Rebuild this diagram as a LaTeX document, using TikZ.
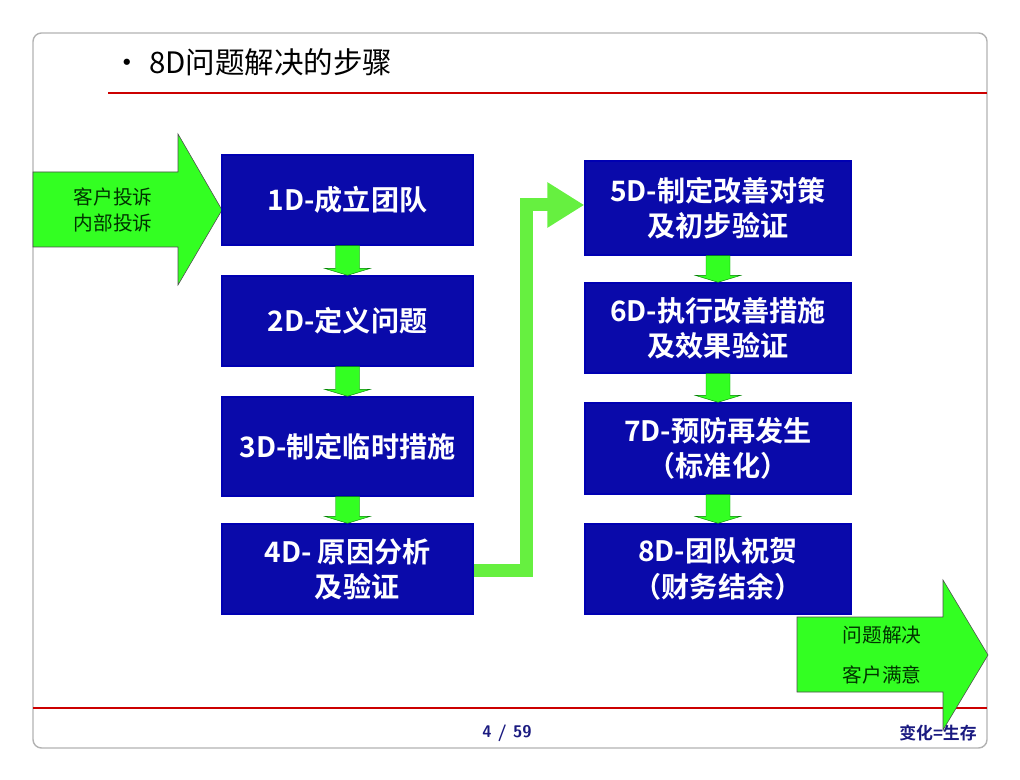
\documentclass[tikz,border=0pt]{standalone}
\usepackage{fontspec}
\newfontfamily\cjk{Noto Sans CJK SC}
\newfontfamily\cjkbold{Noto Sans CJK SC Bold}
\usetikzlibrary{arrows.meta,calc}
\definecolor{stepblue}{HTML}{0A0AAA}
\definecolor{arrowgreen}{HTML}{33FF22}
\definecolor{linkgreen}{HTML}{66F040}
\definecolor{footblue}{HTML}{1A1A80}

\begin{document}
\begin{tikzpicture}[x=0.025cm,y=-0.025cm]
    \tikzset{stepbox/.style={rectangle, draw=blue!70!black, line width=1pt, fill=stepblue,
               text=white, font=\cjkbold\fontsize{20}{25}\selectfont, align=center, inner sep=0pt},
             downarrow/.style={fill=arrowgreen, draw=green!50!black, line width=0.3pt},
             bigarrow/.style={fill=arrowgreen, draw=black!70, line width=0.4pt},
             arrowtext/.style={text=green!20!black, font=\cjk\fontsize{14}{19}\selectfont, align=center}}
    \useasboundingbox (0,0) rectangle (1020,780);

    % slide frame and rules
    \draw[gray!60, line width=1pt, rounded corners=6] (33,33) rectangle (987,748);
    \draw[red!80!black, line width=1pt] (108,93) -- (987,93);
    \draw[red!80!black, line width=1pt] (33,708) -- (987,708);
    \node[anchor=west, font=\cjk\fontsize{21}{25}\selectfont] (title) at (108,62) {•\ 8D问题解决的步骤};
    \node[text=footblue, font=\bfseries\sffamily\fontsize{12}{14}\selectfont] (page) at (507,733) {4 / 59};
    \node[text=footblue, font=\cjkbold\fontsize{12}{14}\selectfont] (motto) at (938,733) {变化=生存};

    % big arrows in and out
    \draw[bigarrow] (33,172) -- (178,172) -- (178,134) -- (222,210) -- (178,285) -- (178,247) -- (33,247) -- cycle;
    \node[arrowtext] (input) at (113,210) {客户投诉\\内部投诉};
    \draw[bigarrow] (797,617) -- (943,617) -- (943,580) -- (988,655) -- (943,730) -- (943,692) -- (797,692) -- cycle;
    \node[arrowtext, font=\cjk\fontsize{14}{28}\selectfont] (output) at (882,655) {问题解决\\客户满意};

    % steps
    \node[stepbox, minimum width=251*0.025cm, minimum height=90*0.025cm] (d1) at (347.5,200) {1D-成立团队};
    \node[stepbox, minimum width=251*0.025cm, minimum height=90*0.025cm] (d2) at (347.5,321) {2D-定义问题};
    \node[stepbox, minimum width=251*0.025cm, minimum height=99*0.025cm] (d3) at (347.5,446.5) {3D-制定临时措施};
    \node[stepbox, minimum width=251*0.025cm, minimum height=90*0.025cm] (d4) at (347.5,569) {4D- 原因分析\\\ \ \ 及验证};
    \node[stepbox, minimum width=266*0.025cm, minimum height=94*0.025cm] (d5) at (718,208) {5D-制定改善对策\\及初步验证};
    \node[stepbox, minimum width=266*0.025cm, minimum height=90*0.025cm] (d6) at (718,328) {6D-执行改善措施\\及效果验证};
    \node[stepbox, minimum width=266*0.025cm, minimum height=91*0.025cm] (d7) at (718,448.5) {7D-预防再发生\\（标准化）};
    \node[stepbox, minimum width=266*0.025cm, minimum height=90*0.025cm] (d8) at (718,569) {8D-团队祝贺\\（财务结余）};

    % small arrows between steps
    \foreach \a/\b in {d1/d2,d2/d3,d3/d4,d5/d6,d6/d7,d7/d8} {
      \path (\a.south) coordinate (top) (\b.north) coordinate (bot);
      \draw[downarrow] ($(top)+(-12,0)$) -- ($(bot)+(-12,-7)$) -- ($(bot)+(-23,-7)$) -- (bot)
        -- ($(bot)+(23,-7)$) -- ($(bot)+(12,-7)$) -- ($(top)+(12,0)$) -- cycle;
    }

    % link from 4D to 5D
    \coordinate (lowbend) at (526,570);
    \coordinate (highbend) at (526,205);
    \draw[linkgreen, line width=13*0.025cm, -{Triangle[width=43*0.025cm, length=37*0.025cm]}]
      (d4.east |- lowbend) -- (lowbend) -- (highbend) -- (d5.west |- highbend);
\end{tikzpicture}
\end{document}
